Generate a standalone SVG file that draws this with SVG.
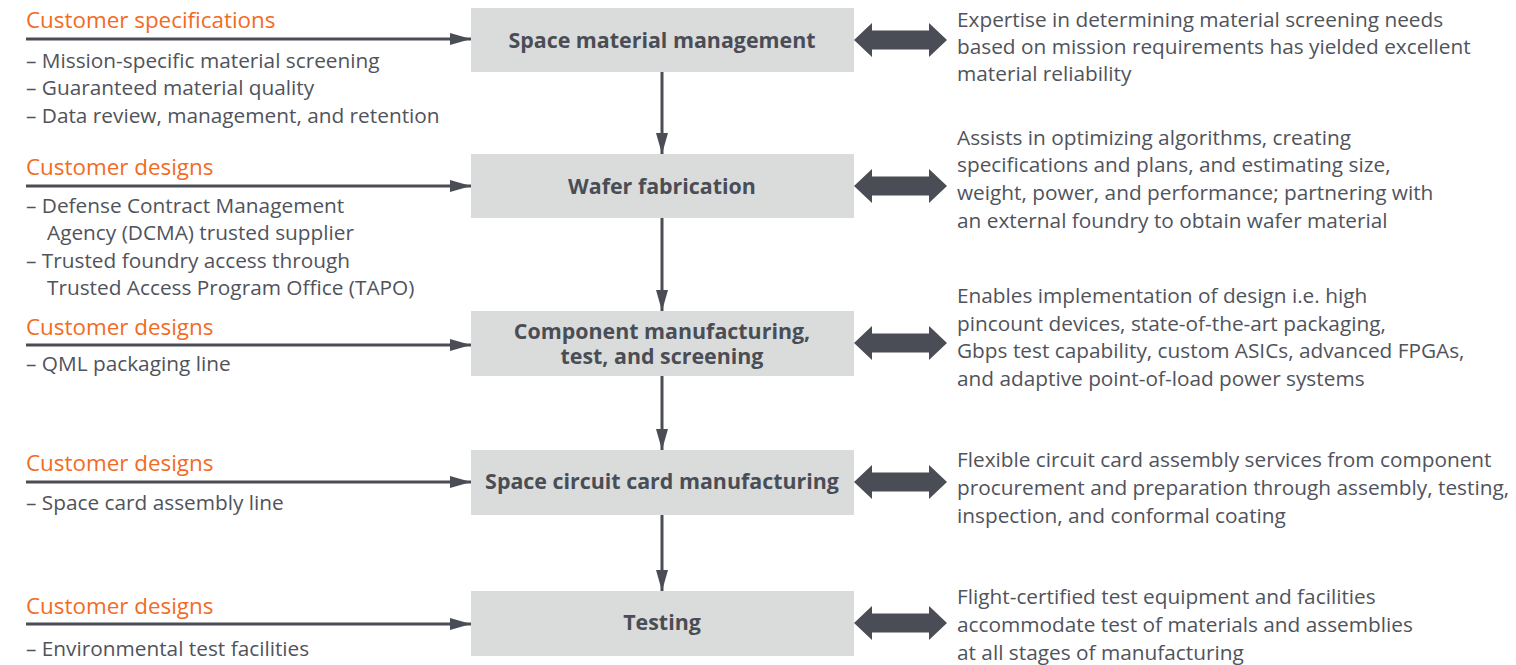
<svg xmlns="http://www.w3.org/2000/svg" width="1516" height="665" viewBox="0 0 1516 665">
<style>
text{font-family:"Open Sans","Noto Sans","Liberation Sans",sans-serif;font-size:20.8px;fill:#50535b}
.h{fill:#f26b24;font-size:22.4px}
.b{font-weight:bold;text-anchor:middle;fill:#4a4d55;font-size:21.4px}
.box{fill:#d9dcdb}
.ln{stroke:#4a4d55;stroke-width:3;fill:none}
.dbl{fill:#4a4d55}
</style>
<defs>
<marker id="ah" markerWidth="22" markerHeight="12" refX="21" refY="6" orient="auto" markerUnits="userSpaceOnUse">
<path d="M0,0 L21,6 L0,12 Z" fill="#4a4d55"/>
</marker>
<path id="dbl" d="M0,0 L18,-17 L18,-9.5 L75,-9.5 L75,-17 L93,0 L75,17 L75,9.5 L18,9.5 L18,17 Z"/>
</defs>
<g id="n1"><rect class="box" x="471" y="8" width="383" height="64"/><text class="b" x="662" y="48">Space material management</text></g>
<g id="n2"><rect class="box" x="471" y="154" width="383" height="64"/><text class="b" x="662" y="194">Wafer fabrication</text></g>
<g id="n3"><rect class="box" x="471" y="311" width="383" height="65"/><text class="b" x="662" y="339">Component manufacturing,</text><text class="b" x="662" y="364">test, and screening</text></g>
<g id="n4"><rect class="box" x="471" y="450" width="383" height="65"/><text class="b" x="662" y="489">Space circuit card manufacturing</text></g>
<g id="n5"><rect class="box" x="471" y="591" width="383" height="65"/><text class="b" x="662" y="630">Testing</text></g>
<g id="left1"><text class="h" x="26" y="28">Customer specifications</text><text x="26" y="68">– Mission-specific material screening</text><text x="26" y="95">– Guaranteed material quality</text><text x="26" y="123">– Data review, management, and retention</text></g>
<g id="left2"><text class="h" x="26" y="175">Customer designs</text><text x="26" y="213">– Defense Contract Management</text><text x="47" y="240">Agency (DCMA) trusted supplier</text><text x="26" y="268">– Trusted foundry access through</text><text x="47" y="295">Trusted Access Program Office (TAPO)</text></g>
<g id="left3"><text class="h" x="26" y="335">Customer designs</text><text x="26" y="371">– QML packaging line</text></g>
<g id="left4"><text class="h" x="26" y="471">Customer designs</text><text x="26" y="510">– Space card assembly line</text></g>
<g id="left5"><text class="h" x="26" y="614">Customer designs</text><text x="26" y="656">– Environmental test facilities</text></g>
<g id="right1"><text x="957" y="27">Expertise in determining material screening needs</text><text x="957" y="54">based on mission requirements has yielded excellent</text><text x="957" y="81">material reliability</text></g>
<g id="right2"><text x="957" y="145">Assists in optimizing algorithms, creating</text><text x="957" y="172">specifications and plans, and estimating size,</text><text x="957" y="200">weight, power, and performance; partnering with</text><text x="957" y="228">an external foundry to obtain wafer material</text></g>
<g id="right3"><text x="957" y="303">Enables implementation of design i.e. high</text><text x="957" y="331">pincount devices, state-of-the-art packaging,</text><text x="957" y="358">Gbps test capability, custom ASICs, advanced FPGAs,</text><text x="957" y="386">and adaptive point-of-load power systems</text></g>
<g id="right4"><text x="957" y="467">Flexible circuit card assembly services from component</text><text x="957" y="495">procurement and preparation through assembly, testing,</text><text x="957" y="523">inspection, and conformal coating</text></g>
<g id="right5"><text x="957" y="604">Flight-certified test equipment and facilities</text><text x="957" y="632">accommodate test of materials and assemblies</text><text x="957" y="660">at all stages of manufacturing</text></g>
<g id="connectors">
<line class="ln" x1="26" y1="39" x2="471" y2="39" marker-end="url(#ah)"/>
<line class="ln" x1="26" y1="186" x2="471" y2="186" marker-end="url(#ah)"/>
<line class="ln" x1="26" y1="345" x2="471" y2="345" marker-end="url(#ah)"/>
<line class="ln" x1="26" y1="482" x2="471" y2="482" marker-end="url(#ah)"/>
<line class="ln" x1="26" y1="624" x2="471" y2="624" marker-end="url(#ah)"/>
<line class="ln" x1="662" y1="72" x2="662" y2="154" marker-end="url(#ah)"/>
<line class="ln" x1="662" y1="218" x2="662" y2="311" marker-end="url(#ah)"/>
<line class="ln" x1="662" y1="376" x2="662" y2="450" marker-end="url(#ah)"/>
<line class="ln" x1="662" y1="515" x2="662" y2="591" marker-end="url(#ah)"/>
<use href="#dbl" class="dbl" x="854" y="40"/>
<use href="#dbl" class="dbl" x="854" y="186"/>
<use href="#dbl" class="dbl" x="854" y="343"/>
<use href="#dbl" class="dbl" x="854" y="482"/>
<use href="#dbl" class="dbl" x="854" y="623"/>
</g>
</svg>
